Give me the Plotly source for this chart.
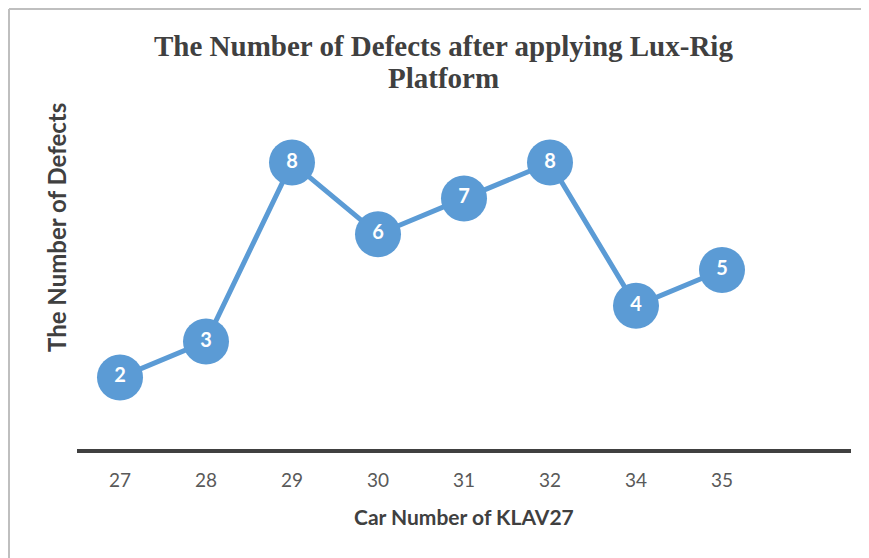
import plotly.graph_objects as go

categories = ["27", "28", "29", "30", "31", "32", "34", "35"]
defects = [2, 3, 8, 6, 7, 8, 4, 5]

OFF = 8  # page body offset
W, H = 869 - OFF, 558 - OFF
# plot area in reference pixel coordinates
PX0, PX1, PY0, PY1 = 77, 851, 91, 449
L, T = PX0 - OFF, PY0 - OFF
R = W - (PX1 - OFF)
B = H - (PY1 - OFF)
pw, ph = PX1 - PX0, PY1 - PY0

def px_x(x):
    return (x - PX0) / pw

def px_y(y):
    return (PY1 - y) / ph

xs = list(range(len(categories)))
blue = "#5B9BD5"
dark = "#404040"

fig = go.Figure()
fig.add_trace(go.Scatter(
    x=xs, y=defects, mode="lines+markers+text",
    line=dict(color=blue, width=5),
    marker=dict(size=46, color=blue),
    text=[str(v) for v in defects], textposition="middle center",
    textfont=dict(family="Lato", size=20, color="white", weight="bold"),
    cliponaxis=False, hoverinfo="skip", showlegend=False,
))

fig.update_layout(
    width=W, height=H, margin=dict(l=L, r=R, t=T, b=B),
    paper_bgcolor="white", plot_bgcolor="white",
    xaxis=dict(range=[-0.5, len(categories) + 0.5], tickvals=xs, ticktext=categories,
               showgrid=False, zeroline=False, showline=True, linecolor=dark,
               linewidth=4, ticks="", ticklabelstandoff=11,
               tickfont=dict(family="Lato", size=19, color="#595959")),
    yaxis=dict(range=[0, 10], showgrid=False, zeroline=False, showline=False,
               showticklabels=False, ticks=""),
    annotations=[
        dict(text="The Number of Defects after applying Lux-Rig",
             x=px_x(443), y=px_y(46), xref="paper", yref="paper",
             xanchor="center", yanchor="middle", showarrow=False,
             font=dict(family="Liberation Serif", size=29, color=dark, weight="bold")),
        dict(text="Platform",
             x=px_x(443), y=px_y(78), xref="paper", yref="paper",
             xanchor="center", yanchor="middle", showarrow=False,
             font=dict(family="Liberation Serif", size=29, color=dark, weight="bold")),
        dict(text="The Number of Defects", textangle=-90,
             x=px_x(57), y=px_y(228), xref="paper", yref="paper",
             xanchor="center", yanchor="middle", showarrow=False,
             font=dict(family="Lato", size=24, color=dark, weight="bold")),
        dict(text="Car Number of KLAV27",
             x=px_x(464), y=px_y(517), xref="paper", yref="paper",
             xanchor="center", yanchor="middle", showarrow=False,
             font=dict(family="Lato", size=21, color=dark, weight="bold")),
    ],
    shapes=[
        dict(type="line", xref="paper", yref="paper", x0=px_x(9), x1=px_x(880),
             y0=px_y(9), y1=px_y(9), line=dict(color="#BFBFBF", width=2)),
        dict(type="line", xref="paper", yref="paper", x0=px_x(9), x1=px_x(9),
             y0=px_y(9), y1=px_y(600), line=dict(color="#BFBFBF", width=2)),
    ],
)

fig.write_html("out.html")
